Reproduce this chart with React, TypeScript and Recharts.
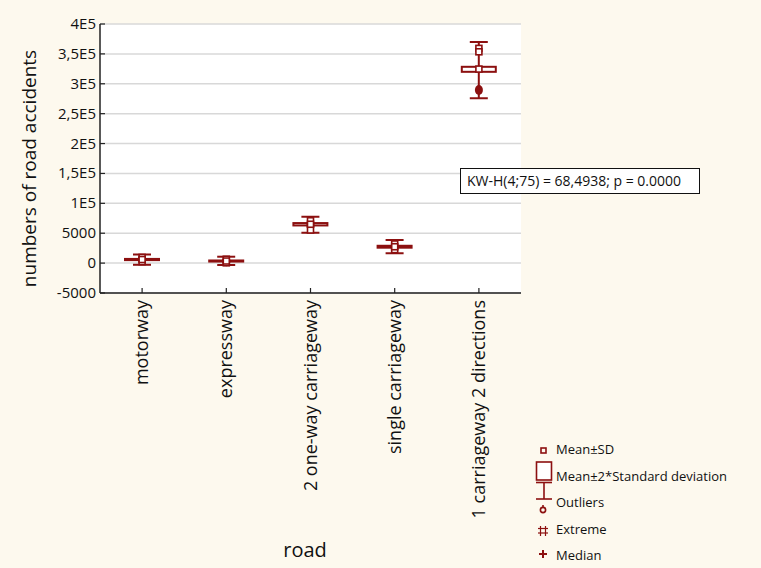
import React from "react";
import {
  ComposedChart,
  Bar,
  Scatter,
  XAxis,
  YAxis,
  CartesianGrid,
} from "recharts";

const ROADS = [
  "motorway",
  "expressway",
  "2 one-way carriageway",
  "single carriageway",
  "1 carriageway 2 directions",
];

// whisker ends (Mean±2*SD), box (Mean±SD), marks
const WHISKER_LOW = [-2800, -3200, 50800, 16400, 275600];
const WHISKER_HIGH = [14400, 10700, 77600, 38600, 370000];
const BOX_LOW = [5000, 2600, 63000, 25800, 320000];
const BOX_HIGH = [7000, 4400, 67000, 29000, 328400];
const MEDIAN = [6000, 3500, 65000, 27400, 324600];
const EXTREME_A = [9500, 6500, 70900, 32000, 359200];
const EXTREME_B = [2500, 500, 55400, 22500, 353500];
const OUTLIER = [6500, 3000, 63500, 27000, 289500];

const Y_TICKS = [-50000, 0, 50000, 100000, 150000, 200000, 250000, 300000, 350000, 400000];
const Y_TICK_LABELS = ["-5000", "0", "5000", "1E5", "1,5E5", "2E5", "2,5E5", "3E5", "3,5E5", "4E5"];

const RED = "#8c1010";
const BG = "#fdf9ee";
const FONT = "'Open Sans', sans-serif";
const AXIS = "#222";

const rows = ROADS.map((road, i) => ({
  road,
  whisker: [WHISKER_LOW[i], WHISKER_HIGH[i]],
  box: [BOX_LOW[i], BOX_HIGH[i]],
  median: MEDIAN[i],
  extA: EXTREME_A[i],
  extB: EXTREME_B[i],
  outlier: OUTLIER[i],
}));

function WhiskerShape(props: any) {
  const { x, y, width, height } = props;
  const cx = x + width / 2;
  return (
    <g stroke={RED} strokeWidth={2}>
      <line x1={cx} x2={cx} y1={y} y2={y + height} />
      <line x1={x} x2={x + width} y1={y} y2={y} />
      <line x1={x} x2={x + width} y1={y + height} y2={y + height} />
    </g>
  );
}

function BoxShape(props: any) {
  const { x, y, width, height } = props;
  return (
    <rect
      x={x}
      y={y}
      width={width}
      height={Math.max(height, 0.5)}
      fill="#fff"
      stroke={RED}
      strokeWidth={2}
    />
  );
}

function SquareMark(props: any) {
  const { cx, cy } = props;
  return (
    <rect x={cx - 3} y={cy - 3} width={6} height={6} fill="#fff" stroke={RED} strokeWidth={1.6} />
  );
}

function BlobMark(props: any) {
  const { cx, cy } = props;
  return <ellipse cx={cx} cy={cy} rx={4} ry={5} fill={RED} />;
}

function LeftTick(props: any) {
  const { x, y, payload } = props;
  const idx = Y_TICKS.indexOf(payload.value);
  return (
    <g>
      <line x1={x} x2={x + 5} y1={y} y2={y} stroke={AXIS} strokeWidth={1.2} />
      <text x={x - 4} y={y} dy={5} textAnchor="end" fontSize={15} fontFamily={FONT} fill="#111">
        {Y_TICK_LABELS[idx]}
      </text>
    </g>
  );
}

function RightTick(props: any) {
  const { x, y } = props;
  return <line x1={x - 5} x2={x} y1={y} y2={y} stroke={AXIS} strokeWidth={1.2} />;
}

function BottomTick(props: any) {
  const { x, y, payload } = props;
  return (
    <g>
      <line x1={x} x2={x} y1={y - 5} y2={y} stroke={AXIS} strokeWidth={1.2} />
      <text
        x={x}
        y={y + 7}
        dy={6}
        textAnchor="end"
        fontSize={18}
        fontFamily={FONT}
        fill="#111"
        transform={`rotate(-90, ${x}, ${y + 7})`}
      >
        {payload.value}
      </text>
    </g>
  );
}

function TopTick(props: any) {
  const { x, y } = props;
  return <line x1={x} x2={x} y1={y} y2={y + 5} stroke={AXIS} strokeWidth={1.2} />;
}

function LegendBox() {
  const t = { fontSize: 13, fontFamily: FONT, fill: "#111" };
  return (
    <svg width={761} height={568} style={{ position: "absolute", left: 0, top: 0, pointerEvents: "none" }}>
      <g stroke={RED} fill="none" strokeWidth={1.6}>
        <rect x={541} y={448} width={5} height={5} />
        <rect x={536.5} y={462} width={15} height={18} fill="#fff" />
        <line x1={536} x2={552} y1={482.5} y2={482.5} />
        <line x1={544} x2={544} y1={482.5} y2={499} />
        <line x1={536} x2={552} y1={499} y2={499} />
        <circle cx={543} cy={510} r={2.6} />
        <line x1={543} x2={543} y1={505} y2={507.4} />
        <line x1={538} x2={548} y1={528.5} y2={528.5} strokeWidth={1.2} />
        <line x1={538} x2={548} y1={533} y2={533} strokeWidth={1.2} />
        <line x1={540.5} x2={540.5} y1={526} y2={536} strokeWidth={1.2} />
        <line x1={545.5} x2={545.5} y1={526} y2={536} strokeWidth={1.2} />
        <line x1={539} x2={547} y1={554} y2={554} strokeWidth={2} />
        <line x1={543} x2={543} y1={550} y2={558} strokeWidth={2} />
      </g>
      <text x={556} y={454} {...t}>Mean±SD</text>
      <text x={556} y={481} {...t}>Mean±2*Standard deviation</text>
      <text x={556} y={507} {...t}>Outliers</text>
      <text x={556} y={534} {...t}>Extreme</text>
      <text x={556} y={560} {...t}>Median</text>
    </svg>
  );
}

export default function App() {
  return (
    <div
      style={{
        position: "absolute",
        left: 0,
        top: 0,
        width: 761,
        height: 568,
        background: BG,
        overflow: "hidden",
      }}
    >
      <ComposedChart
        width={761}
        height={568}
        data={rows}
        margin={{ top: 24, right: 240, left: 0, bottom: 0 }}
      >
        <CartesianGrid
          xAxisId="w"
          yAxisId="l"
          vertical={false}
          stroke="#d8d8d8"
          strokeWidth={1.5}
          fill="#fff"
        />
        <XAxis
          xAxisId="w"
          dataKey="road"
          type="category"
          height={275}
          axisLine={{ stroke: AXIS, strokeWidth: 1.5 }}
          tickLine={false}
          tickSize={0}
          tickMargin={0}
          interval={0}
          tick={<BottomTick />}
        />
        <XAxis xAxisId="b" dataKey="road" type="category" orientation="top" height={0} hide />
        <XAxis
          xAxisId="top"
          dataKey="road"
          type="category"
          orientation="top"
          height={0}
          axisLine={{ stroke: AXIS, strokeWidth: 1.5 }}
          tickLine={false}
          tickSize={0}
          tickMargin={0}
          interval={0}
          tick={<TopTick />}
        />
        <YAxis
          yAxisId="l"
          type="number"
          domain={[-50000, 400000]}
          allowDataOverflow
          ticks={Y_TICKS}
          interval={0}
          width={100}
          axisLine={{ stroke: AXIS, strokeWidth: 1.5 }}
          tickLine={false}
          tickSize={0}
          tickMargin={0}
          tick={<LeftTick />}
          label={{
            value: "numbers of road accidents",
            angle: -90,
            position: "insideLeft",
            dx: 24,
            dy: 10,
            style: { fontSize: 19, fontFamily: FONT, fill: "#111", textAnchor: "middle" },
          }}
        />
        <YAxis
          yAxisId="r"
          orientation="right"
          type="number"
          domain={[-50000, 400000]}
          allowDataOverflow
          ticks={Y_TICKS}
          interval={0}
          width={0}
          axisLine={{ stroke: AXIS, strokeWidth: 1.5 }}
          tickLine={false}
          tickSize={0}
          tickMargin={0}
          tick={<RightTick />}
        />
        <Bar
          xAxisId="w"
          yAxisId="l"
          dataKey="whisker"
          barSize={18}
          shape={<WhiskerShape />}
          isAnimationActive={false}
        />
        <Bar
          xAxisId="b"
          yAxisId="l"
          dataKey="box"
          barSize={34}
          shape={<BoxShape />}
          isAnimationActive={false}
        />
        <Scatter xAxisId="w" yAxisId="l" dataKey="outlier" shape={<BlobMark />} isAnimationActive={false} />
        <Scatter xAxisId="w" yAxisId="l" dataKey="extA" shape={<SquareMark />} isAnimationActive={false} />
        <Scatter xAxisId="w" yAxisId="l" dataKey="extB" shape={<SquareMark />} isAnimationActive={false} />
        <Scatter xAxisId="w" yAxisId="l" dataKey="median" shape={<SquareMark />} isAnimationActive={false} />
      </ComposedChart>
      <div
        style={{
          position: "absolute",
          left: 305,
          top: 536,
          transform: "translateX(-50%)",
          fontSize: 20,
          fontFamily: FONT,
          color: "#111",
          whiteSpace: "nowrap",
        }}
      >
        road
      </div>
      <div
        style={{
          position: "absolute",
          left: 460,
          top: 168,
          width: 240,
          height: 26,
          boxSizing: "border-box",
          border: "1.5px solid #111",
          background: "#fff",
          fontSize: 14,
          fontFamily: FONT,
          color: "#111",
          lineHeight: "24px",
          paddingLeft: 6,
          whiteSpace: "nowrap",
        }}
      >
        KW-H(4;75) = 68,4938; p = 0.0000
      </div>
      <LegendBox />
    </div>
  );
}
